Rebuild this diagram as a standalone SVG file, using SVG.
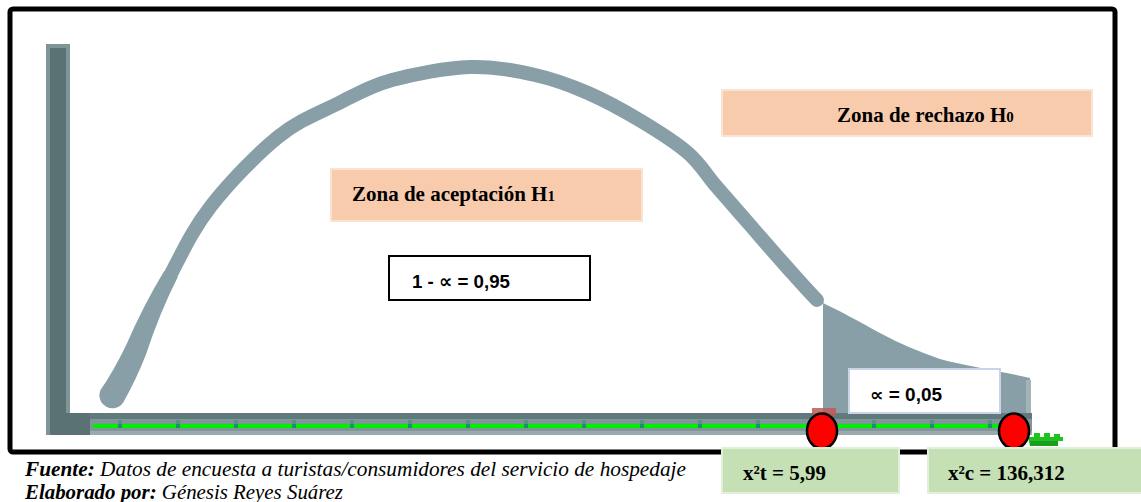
<svg xmlns="http://www.w3.org/2000/svg" width="1141" height="502" viewBox="0 0 1141 502">
<style>
.serifb{font-family:"Liberation Serif","Times New Roman",serif;font-weight:bold;fill:#000}
.sansb{font-family:"Liberation Sans",Arial,"DejaVu Sans",sans-serif;font-weight:bold;fill:#000}
.foot{font-family:"Liberation Serif","Times New Roman","DejaVu Serif",serif;font-style:italic;font-size:21px;fill:#000}
.peach{fill:#f8cbad;stroke:#fbe3d4;stroke-width:2}
.greenbox{fill:#c5e0b4;stroke:#e2efd9;stroke-width:2}
.curve{fill:none;stroke:#889fa8;stroke-linecap:round;stroke-linejoin:round}
.tick{fill:#1f8f6a}
.dot{fill:#ff0000;stroke:#000;stroke-width:2.5}
</style>
<rect x="0" y="0" width="1141" height="502" fill="#ffffff"/>
<g id="frame">
<rect x="10" y="9" width="1105" height="443" rx="3" fill="none" stroke="#000" stroke-width="5"/>
</g>
<g id="curve">
<path class="curve" stroke-width="14" d="M136,350 C145.8,329.7 158.5,298 171,274 C183.5,250 193.2,228.8 211,206 C228.8,183.2 256.7,154.2 278,137 C299.3,119.8 320,112.5 339,103 C358,93.5 370.2,86 392,80 C413.8,74 446.2,67.8 470,67 C493.8,66.2 515.3,70.7 535,75 C554.7,79.3 570.3,85.3 588,93 C605.7,100.7 624.3,111 641,121 C657.7,131 675.5,142.2 688,153 C700.5,163.8 705.7,174 716,186 C726.3,198 738.5,211.8 750,225 C761.5,238.2 773.8,252.5 785,265 C796.2,277.5 809.5,292.8 817,300"/>
<path d="M164.2,270.9 Q143,306 126.1,345.2 Q113,372 100.5,390 A13,13 0 0,0 123.5,402 Q136,380 145.9,354.8 Q160,312 177.8,277.1 Z" fill="#889fa8"/>
</g>
<g id="rejection-area">
<path d="M823,296 L823,303 C840,311 860,322 880,333 C900,344 920,352 940,359 C965,366 1000,371 1030,378 L1031,415 L823,415 Z" fill="#889fa8"/>
<rect x="1026" y="380" width="5" height="35" fill="#a3b3b8"/>
</g>
<g id="axes">
<rect x="46" y="413" width="986" height="22" fill="#7f9598"/>
<rect x="46" y="413" width="986" height="6" fill="#627a7d"/>
<rect x="46" y="431" width="986" height="4" fill="#9aabaf"/>
<rect x="46" y="44" width="24" height="391" fill="#7f9597"/>
<rect x="50" y="48" width="16" height="387" fill="#5b7275"/>
<rect x="50" y="413" width="40" height="22" fill="#5b7275"/>
</g>
<g id="labels-zones">
<g id="zona-rechazo">
<rect class="peach" x="722" y="90" width="370" height="46"/>
<text class="serifb" x="837" y="122" font-size="21">Zona de rechazo H<tspan font-size="15">0</tspan></text>
</g>
<g id="zona-aceptacion">
<rect class="peach" x="331" y="169" width="311" height="52"/>
<text class="serifb" x="352" y="201" font-size="21">Zona de aceptación H<tspan font-size="15">1</tspan></text>
</g>
<g id="uno-menos-alfa">
<rect x="389" y="256" width="201" height="44" fill="#fff" stroke="#000" stroke-width="2"/>
<text class="sansb" x="412" y="288" font-size="19" textLength="98" lengthAdjust="spacingAndGlyphs">1 - ∝ = 0,95</text>
</g>
<g id="alfa">
<rect x="849" y="369" width="151" height="44" fill="#fff" stroke="#c9d4e9" stroke-width="2"/>
<text class="sansb" x="870" y="401" font-size="18" textLength="72" lengthAdjust="spacingAndGlyphs">∝ = 0,05</text>
</g>
</g>
<g id="green-line">
<rect x="93" y="424" width="910" height="4" fill="#00ee00"/>
<rect x="118" y="420" width="4" height="4" fill="#5c8f86"/><rect x="118" y="424" width="4" height="4" class="tick"/>
<rect x="176" y="420" width="4" height="4" fill="#5c8f86"/><rect x="176" y="424" width="4" height="4" class="tick"/>
<rect x="234" y="420" width="4" height="4" fill="#5c8f86"/><rect x="234" y="424" width="4" height="4" class="tick"/>
<rect x="292" y="420" width="4" height="4" fill="#5c8f86"/><rect x="292" y="424" width="4" height="4" class="tick"/>
<rect x="350" y="420" width="4" height="4" fill="#5c8f86"/><rect x="350" y="424" width="4" height="4" class="tick"/>
<rect x="408" y="420" width="4" height="4" fill="#5c8f86"/><rect x="408" y="424" width="4" height="4" class="tick"/>
<rect x="466" y="420" width="4" height="4" fill="#5c8f86"/><rect x="466" y="424" width="4" height="4" class="tick"/>
<rect x="524" y="420" width="4" height="4" fill="#5c8f86"/><rect x="524" y="424" width="4" height="4" class="tick"/>
<rect x="582" y="420" width="4" height="4" fill="#5c8f86"/><rect x="582" y="424" width="4" height="4" class="tick"/>
<rect x="640" y="420" width="4" height="4" fill="#5c8f86"/><rect x="640" y="424" width="4" height="4" class="tick"/>
<rect x="698" y="420" width="4" height="4" fill="#5c8f86"/><rect x="698" y="424" width="4" height="4" class="tick"/>
<rect x="756" y="420" width="4" height="4" fill="#5c8f86"/><rect x="756" y="424" width="4" height="4" class="tick"/>
<rect x="872" y="420" width="4" height="4" fill="#5c8f86"/><rect x="872" y="424" width="4" height="4" class="tick"/>
<rect x="930" y="420" width="4" height="4" fill="#5c8f86"/><rect x="930" y="424" width="4" height="4" class="tick"/>
<rect x="988" y="420" width="4" height="4" fill="#5c8f86"/><rect x="988" y="424" width="4" height="4" class="tick"/>
<path d="M1028,437 H1034 V433 H1040 V437 H1044 V433 H1050 V437 H1054 V434 H1060 V437 H1063 V441 H1058 V446 H1030 Z" fill="#1fc21f"/>
<rect x="1030" y="441" width="28" height="5" fill="#1a9e1a"/>
</g>
<g id="critical-points">
<rect x="812" y="408" width="24" height="8" fill="#c05a58" opacity="0.85"/>
<ellipse class="dot" cx="822" cy="431" rx="15" ry="17.5"/>
<ellipse class="dot" cx="1014" cy="431" rx="15" ry="17.5"/>
</g>
<g id="x2t">
<rect class="greenbox" x="722" y="448" width="177" height="45"/>
<text class="serifb" x="743" y="480" font-size="21">x²t = 5,99</text>
</g>
<g id="x2c">
<rect class="greenbox" x="928" y="448" width="220" height="45"/>
<text class="serifb" x="948" y="480" font-size="21">x²c = 136,312</text>
</g>
<g id="footer">
<text class="foot" x="25" y="476" textLength="661" lengthAdjust="spacingAndGlyphs"><tspan font-weight="bold">Fuente:</tspan> Datos de encuesta a turistas/consumidores del servicio de hospedaje</text>
<text class="foot" x="25" y="499" textLength="318" lengthAdjust="spacingAndGlyphs"><tspan font-weight="bold">Elaborado por:</tspan> Génesis Reyes Suárez</text>
</g>
</svg>
